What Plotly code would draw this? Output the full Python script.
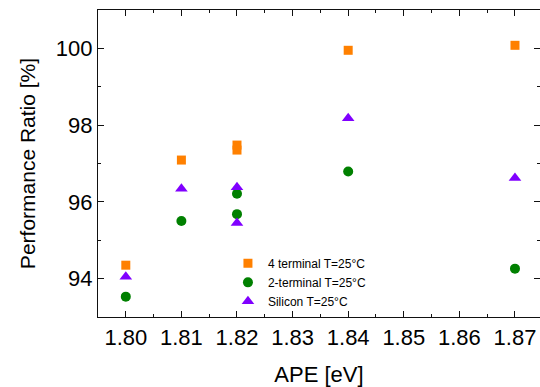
import plotly.graph_objects as go

# APE values [eV]
ape_4t = [1.80, 1.81, 1.82, 1.82, 1.84, 1.87]
pr_4t = [94.35, 97.09, 97.48, 97.35, 99.95, 100.08]

ape_2t = [1.80, 1.81, 1.82, 1.82, 1.84, 1.87]
pr_2t = [93.53, 95.50, 96.21, 95.68, 96.79, 94.26]

ape_si = [1.80, 1.81, 1.82, 1.82, 1.84, 1.87]
pr_si = [94.05, 96.34, 96.38, 95.45, 98.18, 96.62]

x_ticks = [1.80, 1.81, 1.82, 1.83, 1.84, 1.85, 1.86, 1.87]
y_ticks = [94, 96, 98, 100]

FONT = "Liberation Sans, Arial, sans-serif"
AX = "#111111"

fig = go.Figure()
fig.add_trace(go.Scatter(x=ape_4t, y=pr_4t, mode="markers", name="4 terminal T=25°C",
                         marker=dict(symbol="square", size=9, color="#FF8000")))
fig.add_trace(go.Scatter(x=ape_2t, y=pr_2t, mode="markers", name="2-terminal T=25°C",
                         marker=dict(symbol="circle", size=10, color="#008000")))
fig.add_trace(go.Scatter(x=ape_si, y=pr_si, mode="markers", name="Silicon T=25°C",
                         marker=dict(symbol="triangle-up", size=11, color="#8000FF")))
# helper trace for right-side mirrored ticks
fig.add_trace(go.Scatter(x=[], y=[], yaxis="y2", showlegend=False, hoverinfo="skip"))

fig.update_layout(
    width=540, height=387,
    margin=dict(l=98, r=0, t=10, b=70),
    paper_bgcolor="white", plot_bgcolor="white",
    font=dict(family=FONT, color="black"),
    showlegend=True,
    legend=dict(x=0.294, y=0.222, xanchor="left", yanchor="top",
                bgcolor="rgba(0,0,0,0)", font=dict(size=12, family=FONT),
                tracegroupgap=0),
    xaxis=dict(
        range=[1.795, 1.8745], tickvals=x_ticks, ticktext=[f"{v:.2f}" for v in x_ticks],
        showgrid=False, zeroline=False,
        showline=True, linecolor=AX, linewidth=1.3, mirror="ticks",
        ticks="inside", ticklen=6, tickwidth=1.3, tickcolor=AX,
        minor=dict(dtick=0.005, tick0=1.80, ticks="inside", ticklen=3, tickwidth=1.3, tickcolor=AX),
        tickfont=dict(size=22, family=FONT),
        title=dict(text="APE [eV]", font=dict(size=22, family=FONT), standoff=19),
    ),
    yaxis=dict(
        range=[93, 101], tickvals=y_ticks,
        showgrid=False, zeroline=False,
        showline=True, linecolor=AX, linewidth=1.3, mirror=False,
        ticks="inside", ticklen=6, tickwidth=1.3, tickcolor=AX,
        minor=dict(dtick=1, tick0=93, ticks="inside", ticklen=3, tickwidth=1.3, tickcolor=AX),
        tickfont=dict(size=22, family=FONT),
        title=dict(text="Performance Ratio [%]", font=dict(size=21, family=FONT), standoff=14),
    ),
    yaxis2=dict(
        range=[93, 101], tickvals=y_ticks, overlaying="y", side="right",
        showgrid=False, zeroline=False, showline=False, showticklabels=False,
        ticks="inside", ticklen=6, tickwidth=1.3, tickcolor=AX,
        minor=dict(dtick=1, tick0=93, ticks="inside", ticklen=3, tickwidth=1.3, tickcolor=AX),
    ),
)

fig.write_html("out.html")
